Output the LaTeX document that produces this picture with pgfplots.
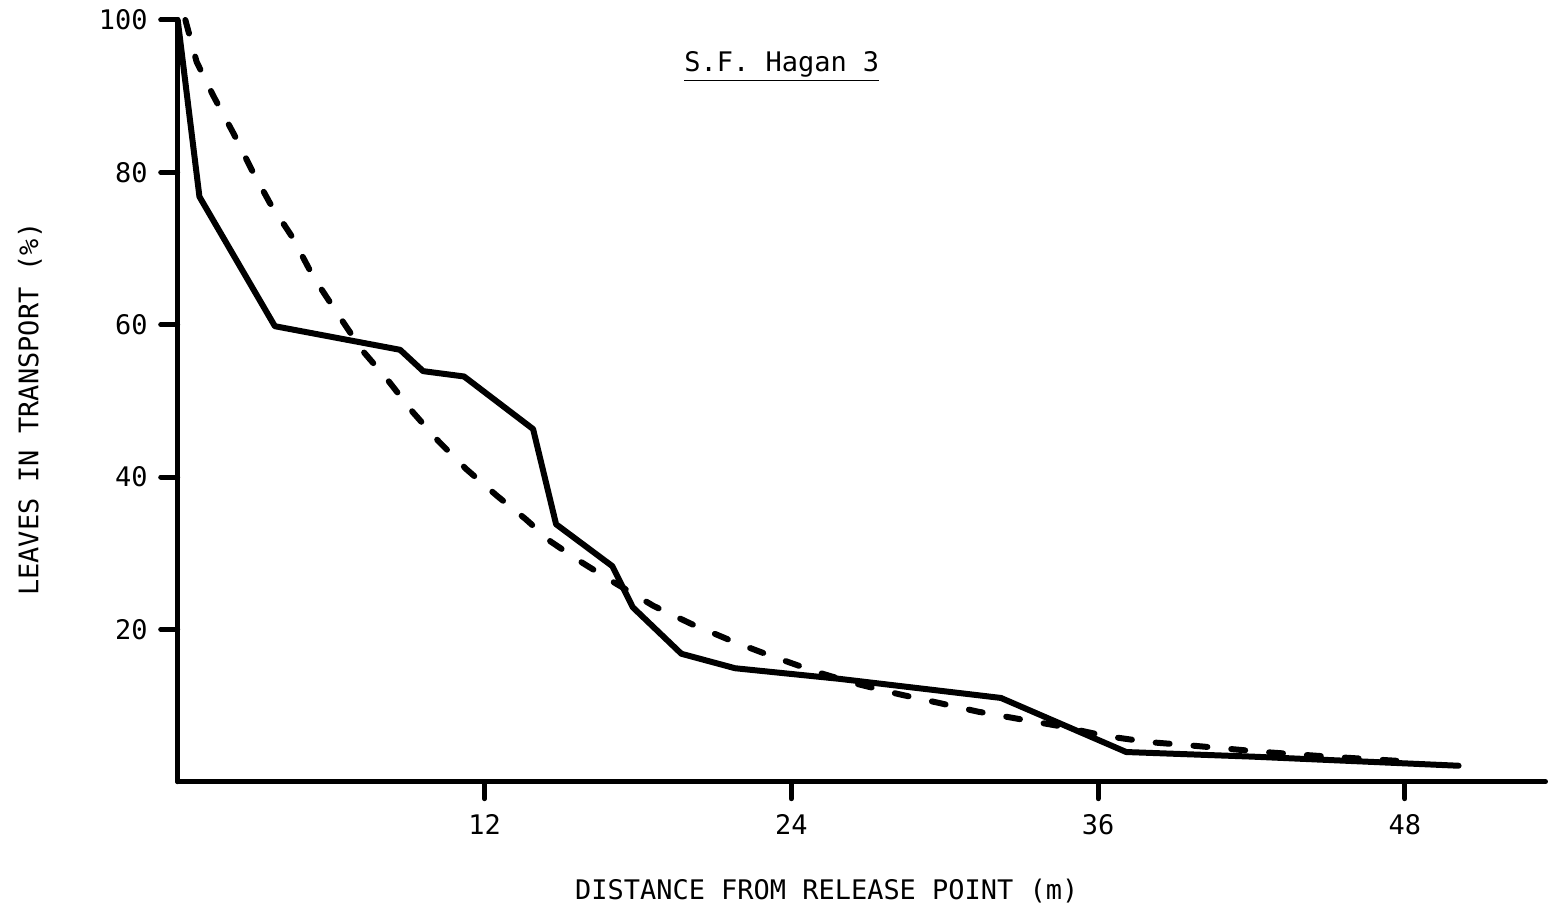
\documentclass[border=0pt]{standalone}
\usepackage{fontspec}
\setmainfont{DejaVu Sans Mono}
\usepackage{pgfplots}
\pgfplotsset{compat=1.18}
\newcommand{\lblfont}{\fontsize{13.5}{16}\selectfont}
\begin{document}
\begin{tikzpicture}
\path (-89pt,-63pt) rectangle (685pt,391.5pt);
\begin{axis}[
  at={(0,0)}, anchor=south west,
  width=685pt, height=381.5pt, scale only axis,
  xmin=0, xmax=53.5, ymin=0, ymax=100,
  axis x line=bottom, axis y line=left,
  axis line style={-, line width=2.5pt, line cap=round},
  xtick={12,24,36,48}, ytick={20,40,60,80,100},
  xtick pos=bottom, ytick pos=left,
  tick align=outside, major tick length=8.5pt,
  every tick/.style={black, line width=2.5pt, line cap=round},
  /pgf/number format/assume math mode=true,
  ticklabel style={font=\lblfont},
  xticklabel style={yshift=-4.5pt},
  yticklabel style={xshift=-3pt},
  xlabel={DISTANCE FROM RELEASE POINT (m)},
  ylabel={LEAVES IN TRANSPORT (\%)},
  label style={font=\lblfont},
  xlabel style={at={(axis description cs:0.4745,-0.144)}, anchor=center},
  ylabel style={at={(axis description cs:-0.108,0.489)}, anchor=center},
  clip=false,
]
\addplot[black, line width=3pt, line join=round, line cap=round] coordinates {
(0,100) (0.85,76.8) (3.8,59.8) (8.7,56.7) (9.6,53.9) (11.2,53.2) (13.9,46.3)
(14.8,33.8) (17.0,28.3) (17.8,22.9) (19.7,16.8) (21.8,14.9) (25.9,13.5)
(32.2,11.0) (37.1,3.9) (42.0,3.3) (50.1,2.1)
};
\addplot[black, line width=3pt, line cap=round, dash pattern=on 7pt off 12pt] coordinates {
(0.3,100) (0.74,94.5) (1.4,90) (2.2,85) (2.9,80.3) (3.6,76) (4.5,71.4)
(5.3,66.3) (6.2,61.7) (7.2,56.7) (8.2,52.8) (9.2,48.5) (10.2,44.7) (11.3,41)
(12.5,37.5) (13.6,34.5) (14.6,31.5) (15.8,28.8) (17.0,26.3) (18.6,23.1)
(20.1,20.7) (21.8,18.3) (23.3,16.4) (25.0,14.4) (26.5,12.9) (28.2,11.5)
(29.7,10.4) (31.3,9.2) (32.8,8.3) (34.5,7.3) (36.3,6.0) (38.0,5.2) (39.5,4.8)
(42.5,3.9) (45.0,3.3) (48.4,2.6)
};
\node[anchor=base, font=\lblfont, inner sep=0pt] at (axis cs:23.63,93.2) {\underline{S.F. Hagan 3}};
\end{axis}
\end{tikzpicture}
\end{document}
